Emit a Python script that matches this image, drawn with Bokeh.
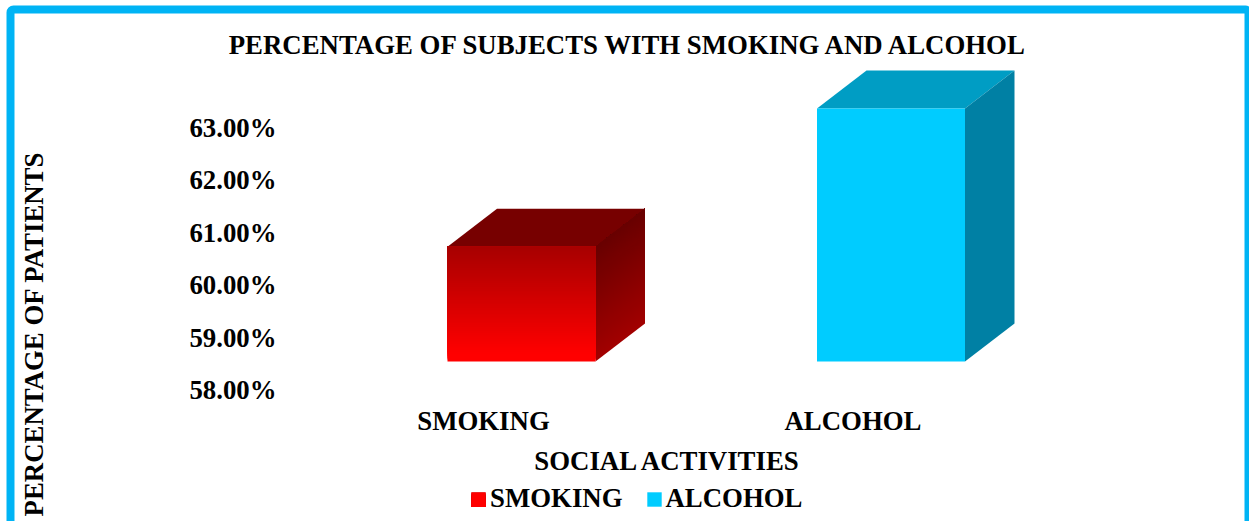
from bokeh.embed import file_html
from bokeh.resources import INLINE
from bokeh.plotting import figure
from bokeh.models import (BoxAnnotation, ColumnDataSource, FixedTicker, Label, Legend,
                          LegendItem, LinearAxis, Range1d)
from bokeh.core.properties import value

# chart data
categories = ["SMOKING", "ALCOHOL"]
percentages = [60.19, 62.83]
y_ticks = [58, 59, 60, 61, 62, 63]
title_text = "PERCENTAGE OF SUBJECTS WITH SMOKING AND ALCOHOL"
y_title = "PERCENTAGE OF PATIENTS"
x_title = "SOCIAL ACTIVITIES"

# layout, in pixels from the top-left of the page
W, H = 1249, 521
PX_PER_PCT = 52.4
BAR_GAP = 369.5
BAR_X0 = 521.0
LABEL_X0 = 483.0
BASE_Y = 361.0
TICK_BASE_Y = 389.5
Y_AXIS_X = 276
X_AXIS_Y = 399
BAR_W = 148 / BAR_GAP
DEPTH_X = 49.5 / BAR_GAP
DEPTH_Y = 38 / PX_PER_PCT
BASE = y_ticks[0]
FONT = "Liberation Serif"
SIZE = "26.8px"
BORDER = "#00B4F5"


def lerp_hex(a, b, t):
    return "#" + "".join(f"{round(p + (q - p) * t):02x}" for p, q in zip(a, b))


# the frame fills the page; the axes are pinned inside it with fixed_location
p = figure(width=W, height=H, output_backend="svg", toolbar_location=None,
           x_axis_type=None, y_axis_type=None, tools="",
           min_border=0,
           x_range=Range1d(-BAR_X0 / BAR_GAP, (W - BAR_X0) / BAR_GAP),
           y_range=Range1d(BASE - (H - BASE_Y) / PX_PER_PCT, BASE + BASE_Y / PX_PER_PCT))
p.outline_line_color = None
p.grid.visible = False
p.background_fill_color = "white"
p.border_fill_color = "white"

# category and percentage labels sit on ranges offset from the bars' floor
p.extra_x_ranges["labels"] = Range1d(-LABEL_X0 / BAR_GAP, (W - LABEL_X0) / BAR_GAP)
p.extra_y_ranges["labels"] = Range1d(BASE - (H - TICK_BASE_Y) / PX_PER_PCT,
                                     BASE + TICK_BASE_Y / PX_PER_PCT)

label_style = dict(major_tick_line_color=None, minor_tick_line_color=None, major_tick_out=0,
                   major_tick_in=0, minor_tick_out=0, minor_tick_in=0, axis_line_color=None,
                   major_label_text_font=FONT, major_label_text_font_size=SIZE,
                   major_label_text_font_style="bold", major_label_text_color="black")

y_axis = LinearAxis(y_range_name="labels", ticker=FixedTicker(ticks=y_ticks),
                    major_label_overrides={t: f"{t:.2f}%" for t in y_ticks},
                    fixed_location=(Y_AXIS_X - BAR_X0) / BAR_GAP, major_label_standoff=0, **label_style)
p.add_layout(y_axis, "left")

x_axis = LinearAxis(x_range_name="labels", ticker=FixedTicker(ticks=list(range(len(categories)))),
                    major_label_overrides={i: c for i, c in enumerate(categories)},
                    fixed_location=BASE + (BASE_Y - X_AXIS_Y) / PX_PER_PCT, major_label_standoff=6,
                    **label_style)
p.add_layout(x_axis, "below")


def solid_box(i, pct, front, side, top):
    l, r = i - BAR_W / 2, i + BAR_W / 2
    p.patch([l, l + DEPTH_X, r + DEPTH_X, r], [pct, pct + DEPTH_Y, pct + DEPTH_Y, pct], color=top, line_width=0)
    p.patch([r, r + DEPTH_X, r + DEPTH_X, r], [BASE, BASE + DEPTH_Y, pct + DEPTH_Y, pct], color=side, line_width=0)
    return p.quad(left=[l], right=[r], bottom=[BASE], top=[pct], color=front, line_width=0)


def shaded_box(i, pct, top, side_hi, side_lo, front_hi, front_lo, steps=60):
    l, r = i - BAR_W / 2, i + BAR_W / 2
    p.patch([l, l + DEPTH_X, r + DEPTH_X, r], [pct, pct + DEPTH_Y, pct + DEPTH_Y, pct], color=top, line_width=0)
    h = pct - BASE
    xs, ys, side_colors, lefts, rights, bottoms, tops, front_colors = [], [], [], [], [], [], [], []
    # each band runs up to the bar's top and is overpainted by the next, so no seams show
    for k in range(steps):
        t = k / steps
        b = BASE + h * t
        xs.append([r, r + DEPTH_X, r + DEPTH_X, r])
        ys.append([b, b + DEPTH_Y, pct + DEPTH_Y, pct])
        side_colors.append(lerp_hex(side_lo, side_hi, t))
        lefts.append(l)
        rights.append(r)
        bottoms.append(b)
        tops.append(pct)
        front_colors.append(lerp_hex(front_lo, front_hi, min(1.0, max(0.0, (t - 0.06) / 0.94))))
    p.patches(xs, ys, color=side_colors, line_width=0)
    src = ColumnDataSource(dict(left=lefts, right=rights, bottom=bottoms, top=tops, color=front_colors))
    return p.quad(left="left", right="right", bottom="bottom", top="top", color="color", line_width=0, source=src)


r_smoking = shaded_box(0, percentages[0], "#770000", (0x68, 0, 0), (0xa2, 0, 0), (0xa6, 0, 0), (0xff, 0, 0))
r_alcohol = solid_box(1, percentages[1], "#00CCFF", "#0080A4", "#009DC4")

legend = Legend(items=[LegendItem(label=value(categories[0]), renderers=[r_smoking], index=0),
                       LegendItem(label=value(categories[1]), renderers=[r_alcohol])],
                orientation="horizontal", location=(469, 7), background_fill_alpha=0,
                border_line_color=None, glyph_width=18, glyph_height=18, label_standoff=3, spacing=22,
                margin=0, padding=5, label_text_font=FONT, label_text_font_size=SIZE,
                label_text_font_style="bold", label_text_color="black", label_height=20)
p.add_layout(legend, "center")

# vertical shading of the smoking legend swatch
SWATCH_L, SWATCH_R, SWATCH_T, SWATCH_B = 471, 485, 492, 506
for k in range(SWATCH_B - SWATCH_T):
    p.add_layout(BoxAnnotation(left=SWATCH_L, right=SWATCH_R, top=H - (SWATCH_T + k), bottom=H - SWATCH_B,
                               left_units="screen", right_units="screen", top_units="screen",
                               bottom_units="screen",
                               fill_color=lerp_hex((0x88, 0, 0), (0xff, 0, 0), min(1.0, k / 11)),
                               fill_alpha=1, line_alpha=0))

# chart title, category-axis title and rotated value-axis title
text_style = dict(x_units="screen", y_units="screen", text_align="center", text_baseline="middle",
                  text_font=FONT, text_font_size=SIZE, text_font_style="bold", text_color="black")
p.add_layout(Label(x=628.5, y=H - 44, text=title_text, **text_style))
p.add_layout(Label(x=667.5, y=H - 460, text=x_title, **text_style))
p.add_layout(Label(x=33, y=H - 333.5, text=y_title, angle=90, angle_units="deg", **text_style))

# frame around the whole chart, running off the bottom of the page
p.add_layout(BoxAnnotation(left=10, right=1248, top=H - 9, bottom=-20, left_units="screen",
                           right_units="screen", top_units="screen", bottom_units="screen",
                           fill_alpha=0, line_color=BORDER, line_alpha=1, line_width=8, border_radius=3))

open("out.html", "w").write(file_html(p, INLINE))
